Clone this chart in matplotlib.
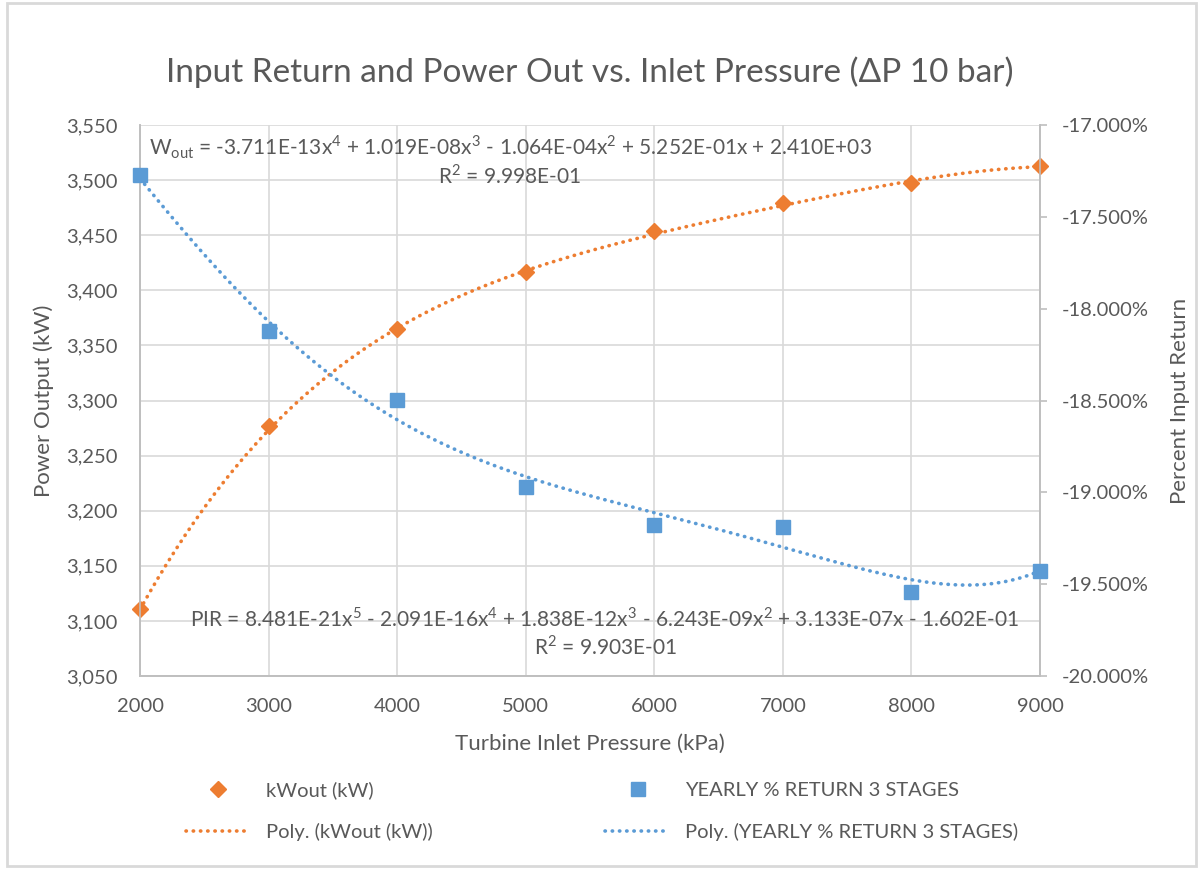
# Input return and power output against turbine inlet pressure, with polynomial trendlines

import numpy as np
import matplotlib.pyplot as plt
from matplotlib.ticker import FuncFormatter, MultipleLocator
from matplotlib.patches import Rectangle

pressure = [2000, 3000, 4000, 5000, 6000, 7000, 8000, 9000]
kw_out = [3111, 3277, 3365, 3417, 3454, 3479, 3497, 3513]
yearly_return = [-0.1727, -0.1812, -0.1850, -0.1897, -0.1918, -0.1919, -0.1954, -0.1943]

# trendline coefficients, highest power first
kw_coef = [-3.711e-13, 1.019e-08, -1.064e-04, 5.252e-01, 2.410e+03]
pir_coef = [8.481e-21, -2.091e-16, 1.838e-12, -6.243e-09, 3.133e-07, -1.602e-01]

kw_eq = (r"W$_{\mathregular{out}}$ = -3.711E-13x$^{\mathregular{4}}$ + 1.019E-08x$^{\mathregular{3}}$"
         r" - 1.064E-04x$^{\mathregular{2}}$ + 5.252E-01x + 2.410E+03")
kw_r2 = r"R$^{\mathregular{2}}$ = 9.998E-01"
pir_eq = (r"PIR = 8.481E-21x$^{\mathregular{5}}$ - 2.091E-16x$^{\mathregular{4}}$ + 1.838E-12x$^{\mathregular{3}}$"
          r" - 6.243E-09x$^{\mathregular{2}}$ + 3.133E-07x - 1.602E-01")
pir_r2 = r"R$^{\mathregular{2}}$ = 9.903E-01"

ORANGE = '#ED7D31'
BLUE = '#5B9BD5'
TEXT = '#595959'
GRID = '#d9d9d9'
AXIS = '#bfbfbf'

plt.rcParams['font.family'] = ['Lato', 'DejaVu Sans']
plt.rcParams['mathtext.fontset'] = 'custom'
plt.rcParams['mathtext.rm'] = 'Lato'

fig = plt.figure(figsize=(11.99, 8.69), dpi=100)
W, H = 1199, 869
ax = fig.add_axes([140 / W, 1 - 676 / H, 900 / W, 551 / H])
ax2 = ax.twinx()

xs = np.linspace(2000, 9000, 300)
dots = (0, (0.1, 1.9))

# power output (left axis)
ax.plot(xs, np.polyval(kw_coef, xs), color=ORANGE, lw=2.6, ls=dots,
        dash_capstyle='round', label='Poly. (kWout (kW))', zorder=3)
ax.plot(pressure, kw_out, ls='none', marker='D', ms=8.5, color=ORANGE,
        label='kWout (kW)', zorder=4, clip_on=False)

# percent input return (right axis)
ax2.plot(xs, np.polyval(pir_coef, xs), color=BLUE, lw=2.6, ls=dots,
         dash_capstyle='round', label='Poly. (YEARLY % RETURN 3 STAGES)', zorder=3)
ax2.plot(pressure, yearly_return, ls='none', marker='s', ms=9.5, color=BLUE,
         label='YEARLY % RETURN 3 STAGES', zorder=4, clip_on=False)

ax.set_xlim(2000, 9000)
ax.set_ylim(3050, 3550)
ax2.set_ylim(-0.20, -0.17)
ax.xaxis.set_major_locator(MultipleLocator(1000))
ax.yaxis.set_major_locator(MultipleLocator(50))
ax2.yaxis.set_major_locator(MultipleLocator(0.005))
ax.yaxis.set_major_formatter(FuncFormatter(lambda v, p: f"{v:,.0f}"))
ax2.yaxis.set_major_formatter(FuncFormatter(lambda v, p: f"{v * 100:.3f}%"))

ax.grid(True, color=GRID, lw=1.2)
ax.set_axisbelow(True)
for a in (ax, ax2):
    a.spines['top'].set_visible(False)
    for side in ('left', 'right', 'bottom'):
        a.spines[side].set_color(AXIS)
        a.spines[side].set_linewidth(1.2)
ax.tick_params(axis='x', length=0, pad=16, labelsize=14.5, labelcolor=TEXT)
ax.tick_params(axis='y', length=0, pad=16, labelsize=14.5, labelcolor=TEXT)
ax2.tick_params(axis='y', length=5, width=1.2, color=AXIS, pad=11,
                labelsize=14.5, labelcolor=TEXT)

ax.set_xlabel('Turbine Inlet Pressure (kPa)', fontsize=16, color=TEXT)
ax.set_ylabel('Power Output (kW)', fontsize=16, color=TEXT)
ax2.set_ylabel('Percent Input Return', fontsize=16, color=TEXT)
ax.xaxis.set_label_coords(0.5, -0.105)
ax.yaxis.set_label_coords(-0.095, 0.5)
ax2.yaxis.set_label_coords(1.145, 0.5)

# trendline equations
ax.text(4878, 3530, kw_eq, ha='center', va='center', fontsize=15, color=TEXT)
ax.text(4878, 3504.5, kw_r2, ha='center', va='center', fontsize=15, color=TEXT)
ax.text(5617, 3101.7, pir_eq, ha='center', va='center', fontsize=15, color=TEXT)
ax.text(5617, 3076.3, pir_r2, ha='center', va='center', fontsize=15, color=TEXT)

fig.text(590 / W, 1 - 72 / H, 'Input Return and Power Out vs. Inlet Pressure (ΔP 10 bar)',
         ha='center', va='center', fontsize=24, color=TEXT)

h1, l1 = ax.get_legend_handles_labels()
h2, l2 = ax2.get_legend_handles_labels()
handles = [h1[1], h1[0], h2[1], h2[0]]
labels = [l1[1], l1[0], l2[1], l2[0]]
leg = fig.legend(handles, labels, ncol=2, loc='center left',
                 bbox_to_anchor=(186 / W, 1 - 811 / H), frameon=False,
                 fontsize=14.5, handlelength=3.2, handletextpad=0.75,
                 columnspacing=8.6, labelspacing=1.2, borderpad=0,
                 borderaxespad=0, numpoints=1)
for t in leg.get_texts():
    t.set_color(TEXT)

fig.patches.append(Rectangle((7 / W, 3 / H), 1189 / W, 863 / H, transform=fig.transFigure,
                             fill=False, edgecolor=GRID, lw=2))

fig.savefig('out.png', dpi=100)
